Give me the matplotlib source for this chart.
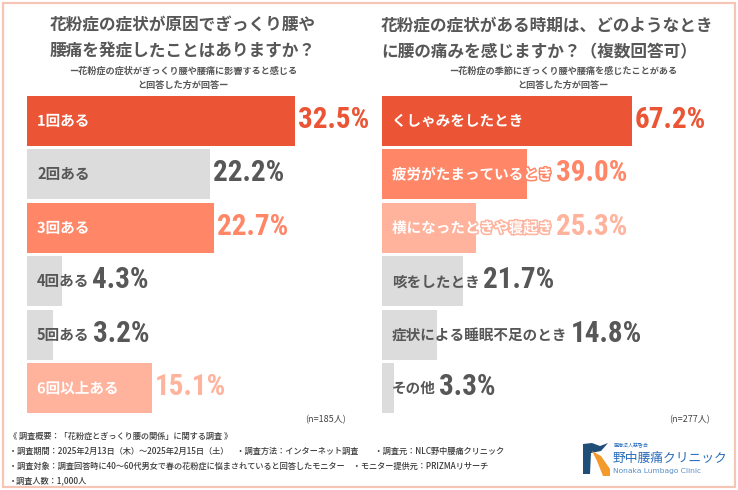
import matplotlib
matplotlib.use("Agg")
import matplotlib.pyplot as plt
import matplotlib.patheffects as pe
from matplotlib.patches import Rectangle, Polygon

plt.rcParams['font.family'] = ['Noto Sans CJK JP', 'DejaVu Sans']

# left chart
left_labels = ["1回ある", "2回ある", "3回ある", "4回ある", "5回ある", "6回以上ある"]
left_values = [32.5, 22.2, 22.7, 4.3, 3.2, 15.1]
left_kind = ["dark", "gray", "mid", "gray", "gray", "light"]

# right chart
right_labels = ["くしゃみをしたとき", "疲労がたまっているとき", "横になったときや寝起き",
                "咳をしたとき", "症状による睡眠不足のとき", "その他"]
right_values = [67.2, 39.0, 25.3, 21.7, 14.8, 3.3]
right_kind = ["dark", "mid", "light", "gray", "gray", "gray"]

colors = {"dark": "#EB5535", "mid": "#FF8667", "light": "#FFB29C", "gray": "#DCDCDC"}
TXT = "#575757"
NUM_FONT = ["Roboto Condensed", "Liberation Sans Narrow", "Roboto", "DejaVu Sans"]
W, H = 738, 490


def fx(x):
    return x / W


def fy(y):
    return 1 - y / H


fig = plt.figure(figsize=(W / 100, H / 100), dpi=100)
fig.patch.set_facecolor("white")

# pink frame
fig.patches.append(Rectangle((fx(3), fy(487)), fx(732), 484 / H, transform=fig.transFigure,
                             fill=False, edgecolor="#F7C5B6", linewidth=1.6))

ax_l = fig.add_axes([fx(27), fy(415), fx(333), 321 / H])
ax_r = fig.add_axes([fx(382), fy(415), fx(340), 321 / H])


def draw_panel(ax, labels, values, kinds, xmax):
    ax.set_xlim(0, xmax)
    ax.set_ylim(len(values) - 0.5, -0.5)
    ax.axis("off")
    ys = range(len(values))
    ax.barh(ys, values, height=0.935, color=[colors[k] for k in kinds])
    texts = []
    for i, (lab, k) in enumerate(zip(labels, kinds)):
        c = TXT if k == "gray" else "white"
        t = ax.annotate(lab, (0, i), xytext=(10, 0), textcoords="offset pixels",
                        va="center", ha="left", fontsize=10.5, fontweight="bold", color=c)
        if k != "gray":
            t.set_path_effects([pe.withStroke(linewidth=2.2, foreground=colors[k])])
        texts.append(t)
    fig.canvas.draw()
    r = fig.canvas.get_renderer()
    inv = ax.transData.inverted()
    for i, (v, k, t) in enumerate(zip(values, kinds, texts)):
        bb = t.get_window_extent(r)
        lab_end = inv.transform((bb.x1, 0))[0]
        x0 = max(v, lab_end)
        c = TXT if k == "gray" else colors[k]
        ax.annotate(f"{v:.1f}%", (x0, i), xytext=(3, 1), textcoords="offset pixels",
                    va="center", ha="left", fontsize=21, fontweight="bold", color=c,
                    family=NUM_FONT)


draw_panel(ax_l, left_labels, left_values, left_kind, 333 / 8.25)
draw_panel(ax_r, right_labels, right_values, right_kind, 340 / 3.72)

# titles
fig.text(fx(183), fy(25), "花粉症の症状が原因でぎっくり腰や", ha="center", va="center",
         fontsize=12, fontweight="bold", color=TXT)
fig.text(fx(183), fy(52), "腰痛を発症したことはありますか？", ha="center", va="center",
         fontsize=12, fontweight="bold", color=TXT)
fig.text(fx(183), fy(71), "ー花粉症の症状がぎっくり腰や腰痛に影響すると感じる", ha="center", va="center",
         fontsize=6.6, fontweight="bold", color=TXT)
fig.text(fx(183), fy(85), "と回答した方が回答ー", ha="center", va="center",
         fontsize=6.6, fontweight="bold", color=TXT)

fig.text(fx(381), fy(25), "花粉症の症状がある時期は、どのようなとき", ha="left", va="center",
         fontsize=12, fontweight="bold", color=TXT)
fig.text(fx(381), fy(52), "に腰の痛みを感じますか？（複数回答可）", ha="left", va="center",
         fontsize=12, fontweight="bold", color=TXT)
fig.text(fx(563), fy(71), "ー花粉症の季節にぎっくり腰や腰痛を感じたことがある", ha="center", va="center",
         fontsize=6.6, fontweight="bold", color=TXT)
fig.text(fx(563), fy(85), "と回答した方が回答ー", ha="center", va="center",
         fontsize=6.6, fontweight="bold", color=TXT)

# sample sizes
fig.text(fx(346), fy(420), "(n=185人)", ha="right", va="center", fontsize=6.5, color="#444444")
fig.text(fx(710), fy(420), "(n=277人)", ha="right", va="center", fontsize=6.5, color="#444444")

# footer
footer = [
    "《 調査概要：「花粉症とぎっくり腰の関係」に関する調査 》",
    "・調査期間：2025年2月13日（木）～2025年2月15日（土）　・調査方法：インターネット調査　　・調査元：NLC野中腰痛クリニック",
    "・調査対象：調査回答時に40～60代男女で春の花粉症に悩まされていると回答したモニター　・モニター提供元：PRIZMAリサーチ",
    "・調査人数：1,000人",
]
for j, line in enumerate(footer):
    fig.text(fx(9), fy(436 + j * 15), line, ha="left", va="center", fontsize=5.9,
             color="#3a3a3a", fontweight="medium")

# logo
fig.patches.append(Polygon([(fx(583), fy(444)), (fx(592), fy(443)), (fx(600), fy(446)),
                            (fx(608), fy(443)), (fx(601), fy(451)), (fx(591), fy(453)),
                            (fx(590), fy(474)), (fx(583), fy(474))],
                           closed=True, transform=fig.transFigure, facecolor="#1F4E79", edgecolor="none"))
fig.patches.append(Polygon([(fx(592), fy(451)), (fx(601), fy(456)), (fx(610), fy(469)),
                            (fx(610), fy(476)), (fx(603), fy(476)), (fx(597), fy(461))],
                           closed=True, transform=fig.transFigure, facecolor="#F39A2B", edgecolor="none"))
fig.text(fx(614), fy(446), "医療法人慈啓会", ha="left", va="center", fontsize=3.6, color="#2A6EBB")
fig.text(fx(613), fy(458), "野中腰痛クリニック", ha="left", va="center", fontsize=9.2, color="#2A6EBB")
fig.text(fx(613), fy(471), "Nonaka Lumbago Clinic", ha="left", va="center", fontsize=5.4,
         color="#5A8FC7", family=["DejaVu Sans"])

fig.savefig("out.png", dpi=100, facecolor="white")
